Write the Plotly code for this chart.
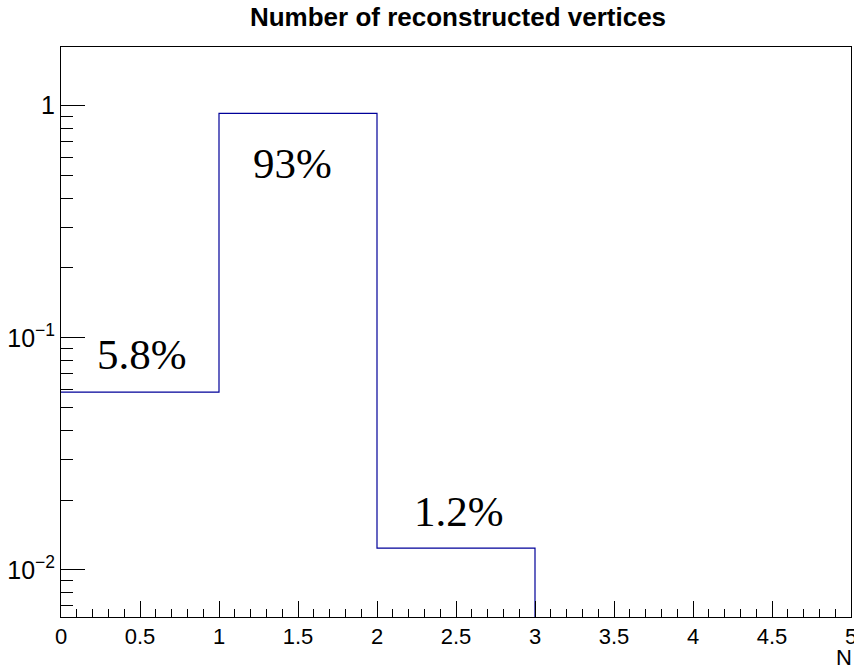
import math
import plotly.graph_objects as go

# Data
bin_edges = [0, 1, 2, 3, 4, 5]
bin_values = [0.0583, 0.927, 0.0124, 0.0, 0.0]
label_texts = ["5.8%", "93%", "1.2%"]
label_x = [0.513, 1.462, 2.516]
label_y = [0.0847, 0.566, 0.0179]

LINE_COLOR = "#000099"
SANS = "Liberation Sans, Arial, Helvetica, sans-serif"
SERIF = "Liberation Serif, Times New Roman, serif"

W, H = 854, 667

# build step line (zeros pushed below axis range so they are clipped)
floor = 1e-4
ys = [v if v > 0 else floor for v in bin_values]
x_step = [bin_edges[0]]
y_step = [ys[0]]
for i in range(len(ys)):
    x_step.append(bin_edges[i + 1])
    y_step.append(ys[i])
    if i + 1 < len(ys):
        x_step.append(bin_edges[i + 1])
        y_step.append(ys[i + 1])

fig = go.Figure()
fig.add_trace(go.Scatter(x=x_step, y=y_step, mode="lines",
                         line=dict(color=LINE_COLOR, width=1.2),
                         hoverinfo="skip", showlegend=False))

for t, x, y in zip(label_texts, label_x, label_y):
    fig.add_annotation(x=x, y=math.log10(y), xref="x", yref="y", text=t,
                       showarrow=False, font=dict(family=SERIF, size=43, color="black"),
                       xanchor="center", yanchor="middle")

fig.add_annotation(x=1.0, xref="paper", y=-0.045, yref="paper", text="N",
                   showarrow=False, xanchor="right", yanchor="top", xshift=3,
                   font=dict(family=SANS, size=22, color="black"))

fig.update_layout(
    width=W, height=H,
    margin=dict(l=61, r=3, t=47, b=50, autoexpand=False),
    paper_bgcolor="white", plot_bgcolor="white",
    title=dict(text="<b>Number of reconstructed vertices</b>",
               x=458 / W, xanchor="center", y=1 - 16.5 / H, yanchor="middle",
               font=dict(family=SANS, size=26, color="black")),
    xaxis=dict(range=[0, 5], showgrid=False, zeroline=False, automargin=False,
               showline=True, linecolor="black", linewidth=1, mirror=True,
               ticks="inside", ticklen=16, tickcolor="black", dtick=0.5,
               ticklabeloverflow="allow",
               tickfont=dict(family=SANS, size=22, color="black"),
               minor=dict(ticks="inside", ticklen=8, dtick=0.1, tickcolor="black", showgrid=False)),
    yaxis=dict(type="log", range=[-2.203, 0.253], showgrid=False, zeroline=False,
               automargin=False,
               showline=True, linecolor="black", linewidth=1, mirror=True,
               ticks="inside", ticklen=24, tickcolor="black", dtick=1,
               exponentformat="power", ticklabelstandoff=1,
               tickfont=dict(family=SANS, size=20, color="black"),
               minor=dict(ticks="inside", ticklen=12, dtick="D1", tickcolor="black", showgrid=False)),
)

fig.write_html("out.html", config={"responsive": False, "displayModeBar": False},
               post_script="document.body.style.margin='0';document.body.style.overflow='hidden';")
